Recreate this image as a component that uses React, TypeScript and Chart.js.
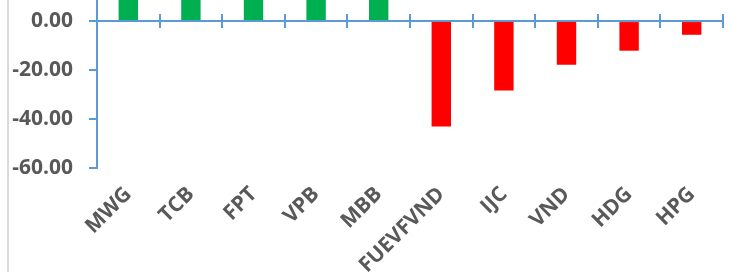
import React, { useEffect, useRef } from "react";
import { Chart, registerables } from "chart.js";

Chart.register(...registerables);

const categories = ["MWG", "TCB", "FPT", "VPB", "MBB", "FUEVFVND", "IJC", "VND", "HDG", "HPG"];
const values = [30.5, 25.2, 22.1, 18.6, 12.4, -43.1, -28.4, -17.8, -12.1, -5.6];
const yTickValues = [-60, -40, -20, 0];
const yMin = -60;
const yMax = 8.6;

const GREEN = "#00b050";
const RED = "#ff0000";
const AXIS = "#5b9bd5";
const TEXT = "#595959";

const zeroLinePlugin = {
  id: "zeroLine",
  afterDatasetsDraw(chart: any) {
    const { ctx, chartArea, scales } = chart;
    const x = scales.x;
    const y = scales.y;
    const y0 = y.getPixelForValue(0);
    ctx.save();
    ctx.strokeStyle = AXIS;
    ctx.lineWidth = 2;
    ctx.beginPath();
    ctx.moveTo(chartArea.left, y0);
    ctx.lineTo(chartArea.right, y0);
    ctx.stroke();
    const n = categories.length;
    const half = (x.getPixelForValue(1) - x.getPixelForValue(0)) / 2;
    for (let i = 1; i <= n; i++) {
      const px = Math.round(x.getPixelForValue(i) - half);
      ctx.beginPath();
      ctx.moveTo(px, y0 - 7);
      ctx.lineTo(px, y0 + 7);
      ctx.stroke();
    }
    ctx.restore();
  },
};

export default function App() {
  const ref = useRef<HTMLCanvasElement | null>(null);
  useEffect(() => {
    if (!ref.current) return;
    const chart = new Chart(ref.current, {
      type: "bar",
      data: {
        labels: categories,
        datasets: [
          {
            data: values,
            backgroundColor: values.map((v) => (v >= 0 ? GREEN : RED)),
            borderWidth: 0,
            categoryPercentage: 1,
            barPercentage: 0.31,
          },
        ],
      },
      options: {
        responsive: false,
        animation: false,
        layout: { padding: { left: 0, right: 9, top: 0, bottom: 0 } },
        plugins: { legend: { display: false }, tooltip: { enabled: false } },
        scales: {
          x: {
            grid: { display: false, drawTicks: false },
            border: { display: false },
            ticks: {
              color: TEXT,
              font: { family: "'Open Sans'", size: 21, weight: "bold" },
              minRotation: 45,
              maxRotation: 45,
              padding: 14,
              autoSkip: false,
            },
            afterFit: (s: any) => {
              s.height = 105;
              s.paddingLeft = 0;
              s.paddingRight = 0;
            },
          },
          y: {
            min: yMin,
            max: yMax,
            grid: {
              display: true,
              drawOnChartArea: false,
              drawTicks: true,
              tickLength: 8,
              color: AXIS,
              lineWidth: 2,
            },
            border: { display: true, color: AXIS, width: 2 },
            afterBuildTicks: (s: any) => {
              s.ticks = yTickValues.map((v) => ({ value: v }));
            },
            ticks: {
              color: TEXT,
              font: { family: "'Open Sans'", size: 21, weight: "bold" },
              padding: 16,
              callback: (v: any) => Number(v).toFixed(2),
            },
            afterFit: (s: any) => {
              s.width = 97;
              s.paddingTop = 0;
              s.paddingBottom = 0;
            },
          },
        },
      },
      plugins: [zeroLinePlugin],
    });
    return () => chart.destroy();
  }, []);
  return (
    <div style={{ position: "absolute", left: 0, top: 0, width: 732, height: 273, background: "#fff", overflow: "hidden" }}>
      <div style={{ position: "absolute", left: 7, top: 0, width: 2, height: 272, background: "#d9d9d9" }} />
      <canvas ref={ref} width={732} height={273} style={{ position: "absolute", left: 0, top: 0 }} />
    </div>
  );
}
